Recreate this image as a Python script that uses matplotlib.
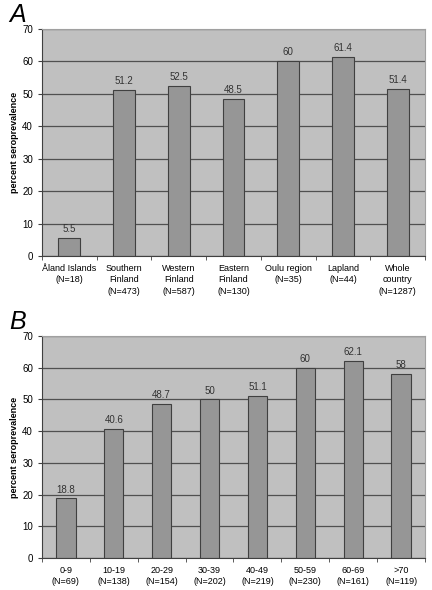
import matplotlib
matplotlib.use("Agg")
import matplotlib.pyplot as plt
import numpy as np

plt.rcParams['font.family'] = ['Liberation Sans', 'DejaVu Sans']

regions = ["Åland Islands\n(N=18)", "Southern\nFinland\n(N=473)", "Western\nFinland\n(N=587)",
           "Eastern\nFinland\n(N=130)", "Oulu region\n(N=35)", "Lapland\n(N=44)",
           "Whole\ncountry\n(N=1287)"]
region_vals = [5.5, 51.2, 52.5, 48.5, 60, 61.4, 51.4]
region_txt = ["5.5", "51.2", "52.5", "48.5", "60", "61.4", "51.4"]

ages = ["0-9\n(N=69)", "10-19\n(N=138)", "20-29\n(N=154)", "30-39\n(N=202)",
        "40-49\n(N=219)", "50-59\n(N=230)", "60-69\n(N=161)", ">70\n(N=119)"]
age_vals = [18.8, 40.6, 48.7, 50, 51.1, 60, 62.1, 58]
age_txt = ["18.8", "40.6", "48.7", "50", "51.1", "60", "62.1", "58"]


def panel(ax, cats, vals, txt, letter):
    x = np.arange(len(cats))
    ax.set_facecolor('#c0c0c0')
    ax.set_axisbelow(True)
    ax.yaxis.grid(True, color='#505050', linewidth=0.9)
    ax.bar(x, vals, width=0.4, color='#969696', edgecolor='#404040', linewidth=0.8)
    for xi, v, t in zip(x, vals, txt):
        ax.text(xi, v + 1.2, t, ha='center', va='bottom', fontsize=7, color='#333333')
    ax.set_xlim(-0.5, len(cats) - 0.5)
    ax.set_ylim(0, 70)
    ax.set_yticks(range(0, 71, 10))
    ax.set_xticks(x)
    ax.set_xticklabels(cats, fontsize=6.5, linespacing=1.3)
    ax.set_xticks(np.arange(len(cats) + 1) - 0.5, minor=True)
    ax.tick_params(axis='x', which='major', length=0, pad=6)
    ax.tick_params(axis='x', which='minor', length=3, color='#404040')
    ax.tick_params(axis='y', labelsize=7, length=3, color='#404040')
    ax.set_ylabel('percent seroprevalence', fontsize=6.5, fontweight='bold', labelpad=2)
    for s in ['top', 'right']:
        ax.spines[s].set_color('#a0a0a0')
        ax.spines[s].set_linewidth(0.8)
    for s in ['left', 'bottom']:
        ax.spines[s].set_color('#404040')
        ax.spines[s].set_linewidth(0.8)
    ax.text(-0.085, 1.01, letter, transform=ax.transAxes, fontsize=18, style='italic',
            ha='left', va='bottom')


fig = plt.figure(figsize=(4.32, 5.90), dpi=100)
ax1 = fig.add_axes([0.0972, 0.566, 0.8866, 0.385])
ax2 = fig.add_axes([0.0972, 0.0542, 0.8866, 0.3763])
panel(ax1, regions, region_vals, region_txt, 'A')
panel(ax2, ages, age_vals, age_txt, 'B')

fig.savefig('out.png', dpi=100, facecolor='white')
